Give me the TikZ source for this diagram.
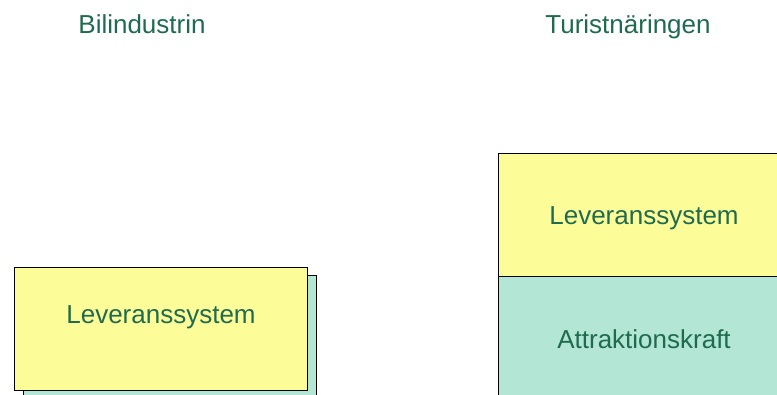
\documentclass[tikz,border=0pt]{standalone}
\usepackage{fontspec}
\setmainfont{Liberation Sans}
\definecolor{txtgreen}{HTML}{1F6B4F}
\definecolor{boxyellow}{HTML}{FCFC99}
\definecolor{boxteal}{HTML}{B3E6D4}
\begin{document}
\begin{tikzpicture}[x=1bp,y=-1bp,
  lbl/.style={text=txtgreen,font=\fontsize{26bp}{30bp}\selectfont,anchor=base,inner sep=0pt},
  ybox/.style={fill=boxyellow,draw=black,line width=0.9bp},
  tbox/.style={fill=boxteal,draw=black,line width=0.9bp}]
\useasboundingbox (0,0) rectangle (777,394);
\begin{scope}
\clip (0,0) rectangle (777,394);
% left
\draw[tbox] (23,275) rectangle (316,410);
\draw[ybox] (14,267) rectangle (307,390);
% right
\draw[tbox] (498,276) rectangle (800,410);
\draw[ybox] (498,153) rectangle (800,276);
\end{scope}
\node[lbl] (t1) at (142,33.5) {Bilindustrin};
\node[lbl] (t2) at (628,33.5) {Turistnäringen};
\node[lbl] (l1) at (161,323) {Leveranssystem};
\node[lbl] (l2) at (644,224) {Leveranssystem};
\node[lbl] (a2) at (644,348) {Attraktionskraft};
\end{tikzpicture}
\end{document}
